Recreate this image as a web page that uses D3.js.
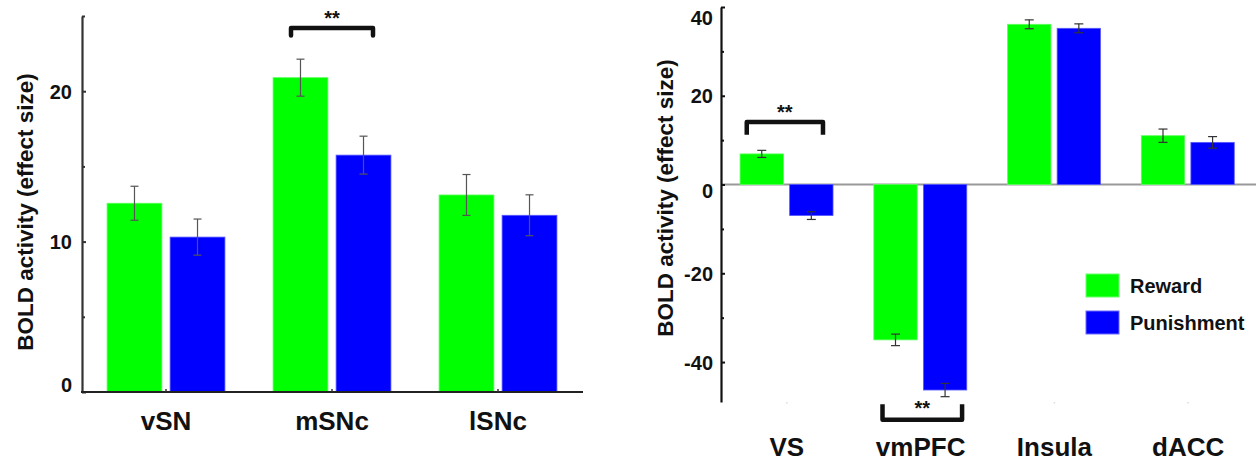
<!DOCTYPE html>
<html>
<head>
<meta charset="utf-8">
<script src="https://cdn.jsdelivr.net/npm/d3@7"></script>
<style>
  html, body { margin: 0; padding: 0; background: #fff; }
  svg { display: block; }
  text { font-family: "Liberation Sans", Arial, sans-serif; font-weight: bold; fill: #111; }
</style>
</head>
<body>
<svg id="chart" width="1256" height="463"></svg>
<script>
// ---------- data ----------
const seriesNames = ["Reward", "Punishment"];
const seriesColors = ["#00ff00", "#0000ff"];

const catsLeft = ["vSN", "mSNc", "lSNc"];
const rewardLeft = [12.55, 20.9, 13.1];
const punishLeft = [10.3, 15.75, 11.75];
const rewardErrLeft = [1.13, 1.23, 1.36];
const punishErrLeft = [1.2, 1.26, 1.36];
const ticksLeft = [0, 10, 20];
const minorTicksLeft = [5, 15, 25];

const catsRight = ["VS", "vmPFC", "Insula", "dACC"];
const rewardRight = [6.9, -35.0, 36.1, 11.0];
const punishRight = [-7.0, -46.3, 35.2, 9.5];
const rewardErrRight = [0.8, 1.3, 1.0, 1.5];
const punishErrRight = [0.87, 1.5, 1.0, 1.3];
const ticksRight = [-40, -20, 0, 20, 40];
const minorTicksRight = [-30, -10, 10, 30];

const yLabel = "BOLD activity (effect size)";
const sigLabel = "**";

const svg = d3.select("#chart");
const fmt = d => String(d);

function rows(cats, r, p, re, pe) {
  return cats.map((c, i) => ({
    cat: c,
    vals: [
      { s: seriesNames[0], v: r[i], e: re[i], color: seriesColors[0] },
      { s: seriesNames[1], v: p[i], e: pe[i], color: seriesColors[1] }
    ]
  }));
}

// ---------- LEFT PANEL ----------
(function () {
  const data = rows(catsLeft, rewardLeft, punishLeft, rewardErrLeft, punishErrLeft);
  const x = d3.scaleBand().domain(catsLeft).range([83, 581]);
  const bw = x.bandwidth();
  const xs = d3.scaleBand().domain(seriesNames).range([bw * 0.145, bw * 0.855]).paddingInner(0.13);
  const y = d3.scaleLinear().domain([0, 25]).range([392, 16]);
  const g = svg.append("g");

  const grp = g.selectAll(".grp").data(data).join("g")
    .attr("transform", d => `translate(${x(d.cat)},0)`);
  grp.selectAll("rect").data(d => d.vals).join("rect")
    .attr("x", d => xs(d.s))
    .attr("width", xs.bandwidth())
    .attr("y", d => y(Math.max(0, d.v)))
    .attr("height", d => Math.abs(y(d.v) - y(0)))
    .attr("fill", d => d.color)
    .attr("stroke", d => d.s === "Punishment" ? "#5a5aff" : "#5cff5c")
    .attr("stroke-width", 0.8);
  const eb = grp.selectAll(".eb").data(d => d.vals).join("g")
    .attr("transform", d => `translate(${xs(d.s) + xs.bandwidth() / 2},0)`)
    .attr("stroke", "#555").attr("stroke-width", 1.2);
  eb.append("line").attr("y1", d => y(d.v - d.e)).attr("y2", d => y(d.v + d.e));
  eb.append("line").attr("x1", -4).attr("x2", 4).attr("y1", d => y(d.v - d.e)).attr("y2", d => y(d.v - d.e));
  eb.append("line").attr("x1", -4).attr("x2", 4).attr("y1", d => y(d.v + d.e)).attr("y2", d => y(d.v + d.e));

  const ya = g.append("g").attr("transform", "translate(82,0)")
    .call(d3.axisLeft(y).tickValues(ticksLeft).tickSizeInner(-4).tickSizeOuter(0).tickPadding(10).tickFormat(fmt));
  ya.select(".domain").attr("stroke", "#333").attr("stroke-width", 2.2);
  ya.selectAll(".tick line").attr("stroke", "#333").attr("stroke-width", 2);
  ya.selectAll(".tick text").attr("font-size", 20).attr("fill", "#111")
    .attr("font-family", "Liberation Sans, Arial, sans-serif").attr("font-weight", "bold")
    .attr("dy", d => d === 0 ? "-0.05em" : "0.34em");
  const ym = g.append("g").attr("transform", "translate(82,0)")
    .call(d3.axisLeft(y).tickValues(minorTicksLeft).tickSizeInner(-3).tickSizeOuter(0).tickFormat(""));
  ym.select(".domain").remove();
  ym.selectAll(".tick line").attr("stroke", "#333").attr("stroke-width", 2);

  const xa = g.append("g").attr("transform", `translate(0,${y(0)})`)
    .call(d3.axisBottom(x).tickSizeInner(-3).tickSizeOuter(0).tickPadding(19.5));
  xa.select(".domain").attr("stroke", "#222").attr("stroke-width", 2.2)
    .attr("d", "M81,0H583");
  xa.selectAll(".tick line").attr("stroke", "#333").attr("stroke-width", 1.5);
  xa.selectAll(".tick text").attr("font-size", 26).attr("fill", "#111")
    .attr("font-family", "Liberation Sans, Arial, sans-serif").attr("font-weight", "bold");

  g.append("text").attr("transform", "translate(33,212) rotate(-90)")
    .attr("text-anchor", "middle").attr("font-size", 22.5).text(yLabel);

  const bx0 = x("mSNc") + bw * 0.253, bx1 = x("mSNc") + bw * 0.747;
  const byTop = y(24.2), byLeg = y(23.7);
  g.append("path")
    .attr("d", `M${bx0},${byLeg}V${byTop}H${bx1}V${byLeg}`)
    .attr("fill", "none").attr("stroke", "#111").attr("stroke-width", 4.5)
    .attr("stroke-linejoin", "round").attr("stroke-linecap", "round");
  g.append("text").attr("x", (bx0 + bx1) / 2).attr("y", byTop - 3.5)
    .attr("text-anchor", "middle").attr("font-size", 20).text(sigLabel);
})();

// ---------- RIGHT PANEL ----------
(function () {
  const data = rows(catsRight, rewardRight, punishRight, rewardErrRight, punishErrRight);
  const x = d3.scaleBand().domain(catsRight).range([720, 1255]);
  const bw = x.bandwidth();
  const xs = d3.scaleBand().domain(seriesNames).range([bw * 0.15, bw * 0.845]).paddingInner(0.125);
  const y = d3.scaleLinear().domain([-49, 40]).range([402, 7]);
  const g = svg.append("g");

  g.append("line").attr("x1", 721).attr("x2", 1256).attr("y1", y(0)).attr("y2", y(0))
    .attr("stroke", "#999").attr("stroke-width", 2);

  const grp = g.selectAll(".grp").data(data).join("g")
    .attr("transform", d => `translate(${x(d.cat)},0)`);
  grp.selectAll("rect").data(d => d.vals).join("rect")
    .attr("x", d => xs(d.s))
    .attr("width", xs.bandwidth())
    .attr("y", d => y(Math.max(0, d.v)))
    .attr("height", d => Math.abs(y(d.v) - y(0)))
    .attr("fill", d => d.color)
    .attr("stroke", d => d.s === "Punishment" ? "#5a5aff" : "#5cff5c")
    .attr("stroke-width", 0.8);
  const eb = grp.selectAll(".eb").data(d => d.vals).join("g")
    .attr("transform", d => `translate(${xs(d.s) + xs.bandwidth() / 2},0)`)
    .attr("stroke", "#333").attr("stroke-width", 1.2);
  eb.append("line").attr("y1", d => y(d.v - d.e)).attr("y2", d => y(d.v + d.e));
  eb.append("line").attr("x1", -4.5).attr("x2", 4.5).attr("y1", d => y(d.v - d.e)).attr("y2", d => y(d.v - d.e));
  eb.append("line").attr("x1", -4.5).attr("x2", 4.5).attr("y1", d => y(d.v + d.e)).attr("y2", d => y(d.v + d.e));

  const ya = g.append("g").attr("transform", "translate(721,0)")
    .call(d3.axisLeft(y).tickValues(ticksRight).tickSizeInner(-4).tickSizeOuter(0).tickPadding(8).tickFormat(fmt));
  ya.select(".domain").attr("stroke", "#111").attr("stroke-width", 2.2);
  ya.selectAll(".tick line").attr("stroke", "#111").attr("stroke-width", 2);
  ya.selectAll(".tick text").attr("font-size", 20).attr("fill", "#111")
    .attr("font-family", "Liberation Sans, Arial, sans-serif").attr("font-weight", "bold")
    .attr("dy", d => d === 40 ? "0.88em" : d === 0 ? "0.64em" : "0.36em");
  const ym = g.append("g").attr("transform", "translate(721,0)")
    .call(d3.axisLeft(y).tickValues(minorTicksRight).tickSizeInner(-3).tickSizeOuter(0).tickFormat(""));
  ym.select(".domain").remove();
  ym.selectAll(".tick line").attr("stroke", "#111").attr("stroke-width", 2);

  const xa = g.append("g").attr("transform", `translate(0,${y(-49)})`)
    .call(d3.axisBottom(x).tickSizeInner(1.5).tickSizeOuter(0).tickPadding(34));
  xa.select(".domain").remove();
  xa.selectAll(".tick line").attr("stroke", "#ddd").attr("stroke-width", 1.5);
  xa.selectAll(".tick text").attr("font-size", 26).attr("fill", "#111")
    .attr("font-family", "Liberation Sans, Arial, sans-serif").attr("font-weight", "bold");

  g.append("text").attr("transform", "translate(673,198) rotate(-90)")
    .attr("text-anchor", "middle").attr("font-size", 22.5).text(yLabel);

  const a0 = x("VS") + bw * 0.2, a1 = x("VS") + bw * 0.77;
  const aTop = y(14.1), aLeg = y(11.2);
  g.append("path").attr("d", `M${a0},${aLeg}V${aTop}H${a1}V${aLeg}`)
    .attr("fill", "none").attr("stroke", "#111").attr("stroke-width", 4.5)
    .attr("stroke-linejoin", "round").attr("stroke-linecap", "butt");
  g.append("text").attr("x", (a0 + a1) / 2).attr("y", aTop - 3)
    .attr("text-anchor", "middle").attr("font-size", 20).text(sigLabel);

  const b0 = x("vmPFC") + bw * 0.215, b1 = x("vmPFC") + bw * 0.81;
  const bBot = y(-53), bLeg = y(-49.5);
  g.append("path").attr("d", `M${b0},${bLeg}V${bBot}H${b1}V${bLeg}`)
    .attr("fill", "none").attr("stroke", "#111").attr("stroke-width", 4.5)
    .attr("stroke-linejoin", "round").attr("stroke-linecap", "butt");
  g.append("text").attr("x", (b0 + b1) / 2).attr("y", bLeg + 11)
    .attr("text-anchor", "middle").attr("font-size", 20).text(sigLabel);

  const lg = g.append("g").attr("transform", "translate(1086,274)");
  const li = lg.selectAll("g").data(seriesNames).join("g")
    .attr("transform", (d, i) => `translate(0,${i * 37})`);
  li.append("rect").attr("width", 33).attr("height", 23)
    .attr("fill", (d, i) => seriesColors[i])
    .attr("stroke", (d, i) => i ? "#6a6aff" : "#6aff6a").attr("stroke-width", 1);
  li.append("text").attr("x", 44).attr("y", 11.5).attr("dy", "0.36em")
    .attr("font-size", 20).text(d => d);
})();
</script>
</body>
</html>
